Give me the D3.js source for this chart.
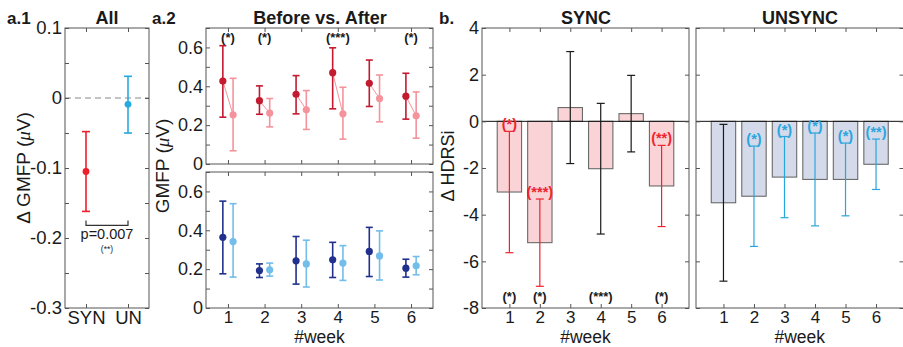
<!DOCTYPE html>
<html>
<head>
<meta charset="utf-8">
<script src="https://cdn.jsdelivr.net/npm/d3@7"></script>
<style>
  body { margin: 0; background: #fff; }
  svg text { font-family: "Liberation Sans", Arial, sans-serif; fill: #1a1a1a; }
</style>
</head>
<body>
<div id="chart"></div>
<script>
// values

// a.1 : change in GMFP, all weeks pooled
var groups = ['SYN', 'UN'];
var allMean = [-0.105, -0.009];
var allLo = [-0.162, -0.050];
var allHi = [-0.048, 0.031];

// a.2 : GMFP before / after, per week
var weeks = [1, 2, 3, 4, 5, 6];
var synBefore = [0.427, 0.326, 0.359, 0.470, 0.415, 0.349];
var synBeforeLo = [0.241, 0.256, 0.258, 0.284, 0.296, 0.231];
var synBeforeHi = [0.609, 0.402, 0.455, 0.598, 0.535, 0.467];
var synAfter = [0.253, 0.262, 0.279, 0.258, 0.337, 0.248];
var synAfterLo = [0.068, 0.191, 0.178, 0.128, 0.217, 0.133];
var synAfterHi = [0.441, 0.337, 0.378, 0.395, 0.458, 0.371];
var unBefore = [0.364, 0.193, 0.243, 0.248, 0.291, 0.205];
var unBeforeLo = [0.176, 0.157, 0.123, 0.157, 0.162, 0.159];
var unBeforeHi = [0.550, 0.227, 0.368, 0.338, 0.415, 0.251];
var unAfter = [0.342, 0.197, 0.227, 0.231, 0.268, 0.217];
var unAfterLo = [0.159, 0.164, 0.108, 0.142, 0.144, 0.171];
var unAfterHi = [0.537, 0.231, 0.349, 0.321, 0.397, 0.265];
var weekSig = ['(*)', '(*)', '', '(***)', '', '(*)'];

// b : change in HDRSi per week
var syncMean = [-3.03, -5.20, 0.59, -2.03, 0.33, -2.77];
var syncErr = [2.60, 1.87, 2.40, 2.80, 1.64, 1.74];
var syncSig = ['(*)', '(***)', '', '', '', '(**)'];
var unsyncMean = [-3.49, -3.21, -2.39, -2.49, -2.49, -1.84];
var unsyncErr = [3.36, 2.15, 1.74, 1.99, 1.56, 1.08];
var unsyncSig = ['', '(*)', '(*)', '(*)', '(*)', '(**)'];

var W = 903, H = 347;
var axisCol = '#555';
var tickFont = '18px';
var xTickFont = '17px';

var svg = d3.select('#chart').append('svg')
    .attr('width', W)
    .attr('height', H)

// box with inward ticks on all four sides (matlab look)
function frame(g, x, y, xt, yt, xFmt, yFmt){
    var L = x.range()[0], R = x.range()[1], B = y.range()[0], T = y.range()[1];
    var none = function(){ return '' };
    var ax = g.append('g').attr('transform', 'translate(' + L + ',0)')
        .call(d3.axisLeft(y).tickValues(yt).tickSizeInner(-4).tickSizeOuter(0).tickPadding(3).tickFormat(yFmt || none))
    g.append('g').attr('transform', 'translate(' + R + ',0)')
        .call(d3.axisRight(y).tickValues(yt).tickSizeInner(-4).tickSizeOuter(0).tickFormat(none))
    g.append('g').attr('transform', 'translate(0,' + T + ')')
        .call(d3.axisTop(x).tickValues(xt).tickSizeInner(-4).tickSizeOuter(0).tickFormat(none))
    var bx = g.append('g').attr('transform', 'translate(0,' + B + ')')
        .call(d3.axisBottom(x).tickValues(xt).tickSizeInner(-4).tickSizeOuter(0).tickPadding(3).tickFormat(xFmt || none))
    g.selectAll('.domain').remove()
    g.selectAll('.tick line').attr('stroke', axisCol)
    g.selectAll('.tick text').attr('fill', '#1a1a1a')
        .attr('font-family', '"Liberation Sans", Arial, sans-serif')
    ax.selectAll('.tick text').attr('font-size', tickFont)
    bx.selectAll('.tick text').attr('font-size', xTickFont)
    g.append('rect')
        .attr('x', L).attr('y', T)
        .attr('width', R - L).attr('height', B - T)
        .attr('fill', 'none')
        .attr('stroke', axisCol)
        .attr('stroke-width', 1)
    return {left: ax, bottom: bx}
}

function errbar(g, xp, y0, y1, col, cap, sw){
    g.append('line').attr('x1', xp).attr('x2', xp).attr('y1', y0).attr('y2', y1)
        .attr('stroke', col).attr('stroke-width', sw)
    g.append('line').attr('x1', xp - cap).attr('x2', xp + cap).attr('y1', y0).attr('y2', y0)
        .attr('stroke', col).attr('stroke-width', sw)
    g.append('line').attr('x1', xp - cap).attr('x2', xp + cap).attr('y1', y1).attr('y2', y1)
        .attr('stroke', col).attr('stroke-width', sw)
}

function label(txt, x, y, opts){
    opts = opts || {};
    var t = svg.append('text')
        .attr('x', x).attr('y', y)
        .attr('font-size', opts.size || '18px')
        .attr('font-weight', opts.bold ? 'bold' : 'normal')
        .attr('text-anchor', opts.anchor || 'start')
    if (opts.fill) t.style('fill', opts.fill)
    if (opts.rotate) t.attr('transform', 'rotate(-90,' + x + ',' + y + ')')
    t.text(txt)
    return t
}

function oneDec(d){
    var r = Math.round(d * 10) / 10;
    return Math.abs(r - d) < 1e-6 ? String(+d.toFixed(1)) : '';
}

// ---------------- a.1 ----------------
var g1 = svg.append('g');
var x1 = d3.scaleLinear().domain([0.5, 2.5]).range([65, 149]);
var y1 = d3.scaleLinear().domain([-0.3, 0.1]).range([308, 28]);
var a1Colors = ['#ee1f2b', '#27a9e1'];

g1.append('line')
    .attr('x1', x1.range()[0]).attr('x2', x1.range()[1])
    .attr('y1', y1(0)).attr('y2', y1(0))
    .attr('stroke', '#888').attr('stroke-dasharray', '6,4')

groups.forEach(function(gname, i){
    errbar(g1, x1(i + 1), y1(allHi[i]), y1(allLo[i]), a1Colors[i], 4, 1.6)
    g1.append('circle').attr('cx', x1(i + 1)).attr('cy', y1(allMean[i])).attr('r', 3.4).attr('fill', a1Colors[i])
})

var f1 = frame(g1, x1, y1, [1, 2], d3.range(-6, 3).map(function(k){ return k * 0.05 }),
    function(d){ return groups[d - 1] }, oneDec)
f1.left.selectAll('.tick text').attr('font-size', '18.5px')
f1.bottom.selectAll('.tick text').attr('font-size', '18.5px')

// significance bracket
var bY = y1(-0.182);
g1.append('path')
    .attr('d', 'M' + x1(1) + ',' + (bY - 5) + 'V' + bY + 'H' + x1(2) + 'V' + (bY - 5))
    .attr('fill', 'none').attr('stroke', '#333').attr('stroke-width', 1.2)
label('p=0.007', (x1(1) + x1(2)) / 2, bY + 14, {size: '14.5px', anchor: 'middle'})
label('(**)', (x1(1) + x1(2)) / 2, bY + 27, {size: '8.5px', anchor: 'middle'})

// ---------------- a.2 ----------------
var xw = d3.scaleLinear().domain([0.4, 6.6]).range([206, 433]);
var yTop = d3.scaleLinear().domain([0, 0.7]).range([164, 28]);
var yBot = d3.scaleLinear().domain([0, 0.7]).range([308, 172]);
var off = 0.14;
var a2Ticks = d3.range(0, 8).map(function(k){ return k / 10 });
function evenDec(d){
    var k = Math.round(d * 10);
    return k % 2 === 0 ? String(+d.toFixed(1)) : '';
}

function beforeAfter(g, y, bm, bl, bh, am, al, ah, cB, cA, joinLines){
    weeks.forEach(function(w, i){
        if (joinLines){
            g.append('line')
                .attr('x1', xw(w - off)).attr('y1', y(bm[i]))
                .attr('x2', xw(w + off)).attr('y2', y(am[i]))
                .attr('stroke', cA).attr('stroke-width', 1)
        }
        errbar(g, xw(w + off), y(ah[i]), y(al[i]), cA, 3.5, 1.6)
        errbar(g, xw(w - off), y(bh[i]), y(bl[i]), cB, 3.5, 1.6)
        g.append('circle').attr('cx', xw(w + off)).attr('cy', y(am[i])).attr('r', 3.6).attr('fill', cA)
        g.append('circle').attr('cx', xw(w - off)).attr('cy', y(bm[i])).attr('r', 3.6).attr('fill', cB)
    })
}

var g2a = svg.append('g');
beforeAfter(g2a, yTop, synBefore, synBeforeLo, synBeforeHi, synAfter, synAfterLo, synAfterHi,
    '#c41a30', '#f4939b', true)
frame(g2a, xw, yTop, weeks, a2Ticks, null, evenDec)

weeks.forEach(function(w, i){
    if (weekSig[i]) label(weekSig[i], xw(w), 42, {size: '13px', bold: true, anchor: 'middle'})
})

var g2b = svg.append('g');
beforeAfter(g2b, yBot, unBefore, unBeforeLo, unBeforeHi, unAfter, unAfterLo, unAfterHi,
    '#21308c', '#72bdea', false)
frame(g2b, xw, yBot, weeks, a2Ticks, function(d){ return d }, evenDec)

// ---------------- b ----------------
var yb = d3.scaleLinear().domain([-8, 4]).range([308, 28]);
var xs = d3.scaleLinear().domain([0.1, 6.9]).range([482, 689]);
var xu = d3.scaleLinear().domain([0.1, 6.9]).range([696, 903.5]);
var bTicks = d3.range(-8, 5, 2);

function barPanel(g, x, means, errs, sigs, fill, sigCol, yLabels){
    weeks.forEach(function(w, i){
        var v = means[i];
        g.append('rect')
            .attr('x', x(w - 0.4))
            .attr('width', x(w + 0.4) - x(w - 0.4))
            .attr('y', yb(Math.max(v, 0)))
            .attr('height', Math.abs(yb(v) - yb(0)))
            .attr('fill', fill)
            .attr('stroke', '#6a6a6a')
            .attr('stroke-width', 1.1)
    })
    g.append('line')
        .attr('x1', x.range()[0]).attr('x2', x.range()[1])
        .attr('y1', yb(0)).attr('y2', yb(0))
        .attr('stroke', '#111').attr('stroke-width', 1)
    weeks.forEach(function(w, i){
        var col = sigs[i] ? sigCol : '#1a1a1a';
        var top = means[i] + errs[i];
        errbar(g, x(w), yb(top), yb(means[i] - errs[i]), col, 4, 1.2)
        if (sigs[i]){
            g.append('text')
                .attr('x', x(w)).attr('y', yb(top) - 7)
                .attr('dy', '0.35em')
                .attr('text-anchor', 'middle')
                .attr('font-size', '14.5px')
                .attr('font-weight', 'bold')
                .style('fill', sigCol)
                .text(sigs[i])
        }
    })
    frame(g, x, yb, weeks, bTicks, function(d){ return d }, yLabels ? function(d){ return String(d) } : null)
}

var gs = svg.append('g');
barPanel(gs, xs, syncMean, syncErr, syncSig, '#f9d3d5', '#f0232e', true)
weeks.forEach(function(w, i){
    if (weekSig[i]) label(weekSig[i], xs(w), 301, {size: '13px', bold: true, anchor: 'middle'})
})

var gu = svg.append('g');
barPanel(gu, xu, unsyncMean, unsyncErr, unsyncSig, '#d4daea', '#2aa6df', false)

// ---------------- titles & axis labels ----------------
label('a.1', 7, 24, {bold: true, size: '17px'})
label('All', 107, 24, {bold: true, size: '18px', anchor: 'middle'})
label('a.2', 152, 24, {bold: true, size: '17px'})
label('Before vs. After', 320, 24, {bold: true, size: '18px', anchor: 'middle'})
label('b.', 439, 24, {bold: true, size: '17px'})
label('SYNC', 586, 24, {bold: true, size: '18px', anchor: 'middle'})
label('UNSYNC', 800, 24, {bold: true, size: '18px', anchor: 'middle'})

label('#week', xw(3.5), 342.5, {size: '17.5px', anchor: 'middle'})
label('#week', xs(3.5), 342.5, {size: '17.5px', anchor: 'middle'})
label('#week', xu(3.5), 342.5, {size: '17.5px', anchor: 'middle'})

var yl1 = label('', 30, 168, {size: '19px', anchor: 'middle', rotate: true});
yl1.append('tspan').text('\u0394 GMFP (')
yl1.append('tspan').style('font-style', 'italic').style('font-family', '"Liberation Serif", serif').text('\u03bc')
yl1.append('tspan').text('V)')

var yl2 = label('', 169, 166, {size: '19px', anchor: 'middle', rotate: true});
yl2.append('tspan').text('GMFP (')
yl2.append('tspan').style('font-style', 'italic').style('font-family', '"Liberation Serif", serif').text('\u03bc')
yl2.append('tspan').text('V)')

label('\u0394 HDRSi', 454, 166, {size: '18px', anchor: 'middle', rotate: true})
</script>
</body>
</html>
